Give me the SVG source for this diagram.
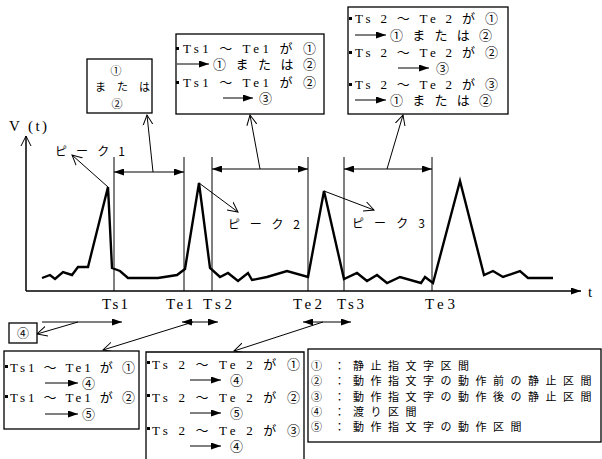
<svg xmlns="http://www.w3.org/2000/svg" width="602" height="459" viewBox="0 0 602 459">
<style>
.bx{fill:#fff;stroke:#000;stroke-width:1.3}
.ln{stroke:#000;stroke-width:1;fill:none}
.ax{stroke:#000;stroke-width:1.5;fill:none}
.wave{stroke:#000;stroke-width:2.4;fill:none;stroke-linejoin:miter}
.t{font-family:"Liberation Serif","Noto Sans CJK JP",serif;font-size:13px;fill:#000}
.ax-l{font-family:"Liberation Serif","Noto Sans CJK JP",serif;font-size:15px;fill:#000}
.j{font-family:"Noto Sans CJK JP","Liberation Sans",sans-serif;font-size:12px;fill:#000}
.js{font-family:"Noto Sans CJK JP","Liberation Sans",sans-serif;font-size:11px;fill:#000}
.lg{font-family:"Noto Sans CJK JP","Liberation Sans",sans-serif;font-size:11px;fill:#000;letter-spacing:6.5px}
.bul{fill:#000}
</style>
<defs>
<marker id="fa" markerUnits="userSpaceOnUse" markerWidth="10" markerHeight="7" refX="10" refY="3.5" orient="auto-start-reverse"><path d="M0,0 L10,3.5 L0,7 z" fill="#000"/></marker>
<marker id="oa" markerUnits="userSpaceOnUse" markerWidth="12" markerHeight="12" refX="10" refY="6" orient="auto"><path d="M0,1 L10,6 L0,11" fill="none" stroke="#000" stroke-width="1"/></marker>
</defs>
<rect width="602" height="459" fill="#fff"/>

<g id="axes">
<line class="ax" x1="26" y1="291" x2="26" y2="136" marker-end="url(#oa)"/>
<line class="ax" x1="26" y1="291" x2="581" y2="291" marker-end="url(#fa)"/>
<text class="ax-l" x="9" y="131" font-size="16" textLength="38" lengthAdjust="spacing">V (t)</text>
<text class="ax-l" x="588" y="297">t</text>
<text class="ax-l" x="102" y="309" textLength="26" lengthAdjust="spacing">Ts1</text>
<text class="ax-l" x="166" y="309" textLength="27" lengthAdjust="spacing">Te1</text>
<text class="ax-l" x="203" y="309" textLength="29" lengthAdjust="spacing">Ts2</text>
<text class="ax-l" x="293" y="309" textLength="29" lengthAdjust="spacing">Te2</text>
<text class="ax-l" x="337" y="309" textLength="27" lengthAdjust="spacing">Ts3</text>
<text class="ax-l" x="425" y="309" textLength="30" lengthAdjust="spacing">Te3</text>
</g>

<g id="waveform">
<polyline class="wave" points="42,278 50,275 55,279 63,272 72,275 78,267 88,267 108,187 112,268 120,271 128,278 158,278 177,275 185,269 199,183 210,268 220,277 228,273 238,281 248,273 252,280 267,277 287,271 308,277 324,191 344,279 357,273 367,281 377,275 387,283 400,277 421,283 425,277 433,283 460,181 484,275 493,271 503,277 520,271 528,278 553,278"/>
</g>

<g id="peak-labels">
<text class="j" x="55" y="156" textLength="70" lengthAdjust="spacing">ピ ー ク 1</text>
<text class="j" x="228" y="229" textLength="72" lengthAdjust="spacing">ピ ー ク 2</text>
<text class="j" x="352" y="228" textLength="73" lengthAdjust="spacing">ピ ー ク 3</text>
</g>

<g id="connectors">
<line class="ln" x1="114" y1="157" x2="114" y2="291"/>
<line class="ln" x1="184" y1="157" x2="184" y2="291"/>
<line class="ln" x1="212" y1="157" x2="212" y2="291"/>
<line class="ln" x1="308" y1="157" x2="308" y2="291"/>
<line class="ln" x1="344" y1="157" x2="344" y2="291"/>
<line class="ln" x1="432" y1="157" x2="432" y2="291"/>
<line class="ln" x1="114" y1="172" x2="184" y2="172" marker-start="url(#fa)" marker-end="url(#fa)"/>
<line class="ln" x1="212" y1="169" x2="308" y2="169" marker-start="url(#fa)" marker-end="url(#fa)"/>
<line class="ln" x1="344" y1="169" x2="432" y2="169" marker-start="url(#fa)" marker-end="url(#fa)"/>
<line class="ln" x1="153" y1="172" x2="147" y2="115" marker-end="url(#oa)"/>
<line class="ln" x1="260" y1="169" x2="250" y2="115" marker-end="url(#oa)"/>
<line class="ln" x1="387" y1="169" x2="403" y2="115" marker-end="url(#oa)"/>
<line class="ln" x1="108" y1="187" x2="72" y2="155" marker-end="url(#oa)"/>
<line class="ln" x1="199" y1="183" x2="238" y2="212" marker-end="url(#oa)"/>
<line class="ln" x1="324" y1="191" x2="374" y2="210" marker-end="url(#oa)"/>
<line class="ln" x1="42" y1="322" x2="122" y2="322" marker-end="url(#fa)"/>
<line class="ln" x1="182" y1="322" x2="218" y2="322" marker-start="url(#fa)" marker-end="url(#fa)"/>
<line class="ln" x1="303" y1="322" x2="351" y2="322" marker-start="url(#fa)" marker-end="url(#fa)"/>
<line class="ln" x1="78" y1="322" x2="37" y2="334" marker-end="url(#oa)"/>
<line class="ln" x1="193" y1="322" x2="103" y2="350" marker-end="url(#oa)"/>
<line class="ln" x1="323" y1="322" x2="234" y2="351" marker-end="url(#oa)"/>
</g>

<g id="box1">
<rect class="bx" x="87" y="59" width="65" height="54"/>
<text class="js" x="116" y="75" text-anchor="middle">①</text>
<text class="js" x="95" y="91" textLength="55" lengthAdjust="spacing">ま た は</text>
<text class="js" x="117" y="108" text-anchor="middle" font-size="10.5">②</text>
</g>

<g id="box2">
<rect class="bx" x="176" y="34" width="148" height="80"/>
<rect class="bul" x="176" y="47" width="3" height="3"/>
<text class="t" x="183" y="53" textLength="133" lengthAdjust="spacing">Ts1 ～ Te1 が ①</text>
<line class="ln" x1="177" y1="64" x2="209" y2="64" marker-end="url(#fa)"/>
<text class="t" x="213" y="69" textLength="103" lengthAdjust="spacing">① ま た は ②</text>
<rect class="bul" x="176" y="81" width="3" height="3"/>
<text class="t" x="183" y="87" textLength="133" lengthAdjust="spacing">Ts1 ～ Te1 が ②</text>
<line class="ln" x1="223" y1="98" x2="253" y2="98" marker-end="url(#fa)"/>
<text class="t" x="259" y="103">③</text>
</g>

<g id="box3">
<rect class="bx" x="348" y="7" width="160" height="107"/>
<rect class="bul" x="349" y="17" width="3" height="3"/>
<text class="t" x="355" y="23" textLength="143" lengthAdjust="spacing">Ts 2 ～ Te 2 が ①</text>
<line class="ln" x1="355" y1="35" x2="386" y2="35" marker-end="url(#fa)"/>
<text class="t" x="390" y="40" textLength="102" lengthAdjust="spacing">① ま た は ②</text>
<rect class="bul" x="349" y="51" width="3" height="3"/>
<text class="t" x="355" y="57" textLength="143" lengthAdjust="spacing">Ts 2 ～ Te 2 が ②</text>
<line class="ln" x1="398" y1="68" x2="429" y2="68" marker-end="url(#fa)"/>
<text class="t" x="436" y="73">③</text>
<rect class="bul" x="349" y="83" width="3" height="3"/>
<text class="t" x="355" y="89" textLength="143" lengthAdjust="spacing">Ts 2 ～ Te 2 が ③</text>
<line class="ln" x1="355" y1="100" x2="386" y2="100" marker-end="url(#fa)"/>
<text class="t" x="390" y="105" textLength="102" lengthAdjust="spacing">① ま た は ②</text>
</g>

<g id="box4">
<rect class="bx" x="9" y="323" width="28" height="20"/>
<text class="j" x="23" y="338" text-anchor="middle">④</text>
</g>

<g id="box5">
<rect class="bx" x="4" y="351" width="135" height="78"/>
<rect class="bul" x="5" y="365" width="3" height="3"/>
<text class="t" x="10" y="372" textLength="125" lengthAdjust="spacing">Ts1 ～ Te1 が ①</text>
<line class="ln" x1="45" y1="383" x2="78" y2="383" marker-end="url(#fa)"/>
<text class="t" x="82" y="388">④</text>
<rect class="bul" x="5" y="395" width="3" height="3"/>
<text class="t" x="10" y="402" textLength="125" lengthAdjust="spacing">Ts1 ～ Te1 が ②</text>
<line class="ln" x1="45" y1="414" x2="78" y2="414" marker-end="url(#fa)"/>
<text class="t" x="82" y="419">⑤</text>
</g>

<g id="box6">
<path class="bx" d="M146,460 V352 H304 V460"/>
<rect class="bul" x="147" y="361" width="3" height="3"/>
<text class="t" x="152" y="369" textLength="148" lengthAdjust="spacing">Ts 2 ～ Te 2 が ①</text>
<line class="ln" x1="190" y1="380" x2="221" y2="380" marker-end="url(#fa)"/>
<text class="t" x="230" y="385">④</text>
<rect class="bul" x="147" y="394" width="3" height="3"/>
<text class="t" x="152" y="402" textLength="148" lengthAdjust="spacing">Ts 2 ～ Te 2 が ②</text>
<line class="ln" x1="190" y1="413" x2="221" y2="413" marker-end="url(#fa)"/>
<text class="t" x="230" y="418">⑤</text>
<rect class="bul" x="147" y="427" width="3" height="3"/>
<text class="t" x="152" y="435" textLength="148" lengthAdjust="spacing">Ts 2 ～ Te 2 が ③</text>
<line class="ln" x1="190" y1="446" x2="221" y2="446" marker-end="url(#fa)"/>
<text class="t" x="230" y="451">④</text>
</g>

<g id="legend">
<rect class="bx" x="308" y="349" width="293" height="93"/>
<text class="js" x="311" y="370">①</text><text class="js" x="334" y="370">：</text><text class="lg" x="353" y="370">静止指文字区間</text>
<text class="js" x="311" y="385">②</text><text class="js" x="334" y="385">：</text><text class="lg" x="353" y="385">動作指文字の動作前の静止区間</text>
<text class="js" x="311" y="401">③</text><text class="js" x="334" y="401">：</text><text class="lg" x="353" y="401">動作指文字の動作後の静止区間</text>
<text class="js" x="311" y="416">④</text><text class="js" x="334" y="416">：</text><text class="lg" x="353" y="416">渡り区間</text>
<text class="js" x="311" y="431">⑤</text><text class="js" x="334" y="431">：</text><text class="lg" x="353" y="431">動作指文字の動作区間</text>
</g>
</svg>
